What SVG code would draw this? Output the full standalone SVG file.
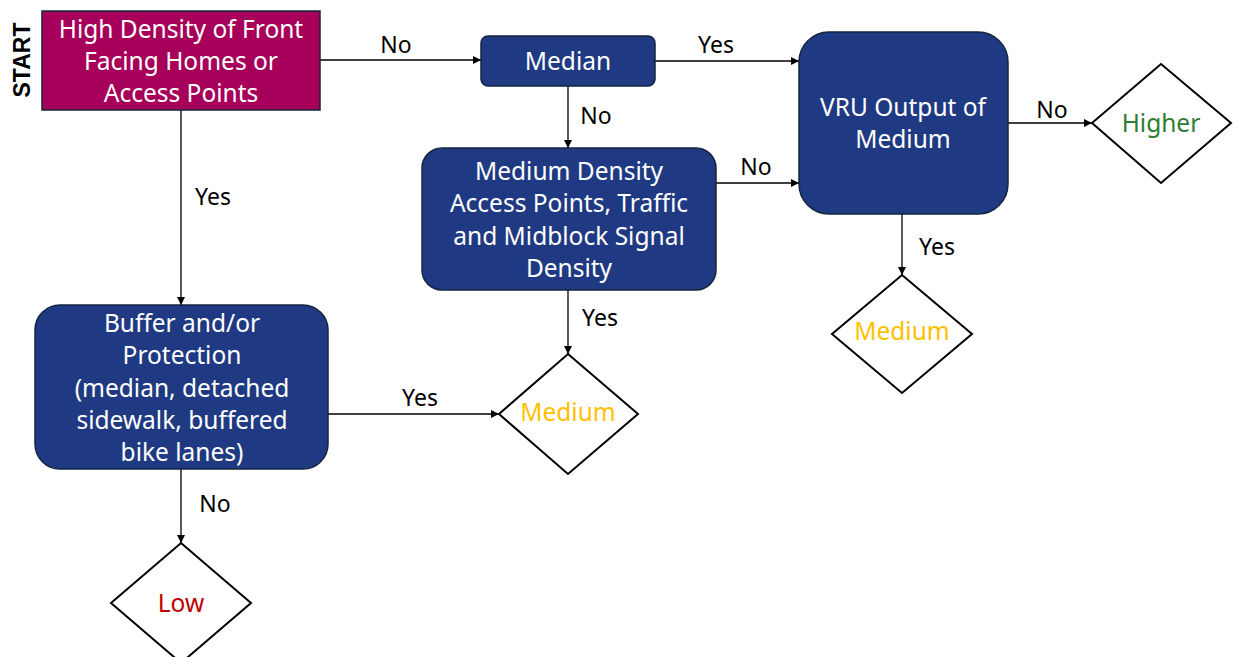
<svg xmlns="http://www.w3.org/2000/svg" width="1233" height="657" viewBox="0 0 1233 657">
<style>
.t{font-family:"Noto Sans","Liberation Sans",sans-serif;font-size:24.5px;text-anchor:middle;dominant-baseline:central}
.l{font-size:23px}
.w{fill:#ffffff}
.k{fill:#000000}
.box{fill:#1F3A82;stroke:#15253f;stroke-width:1.5}
.dia{fill:#ffffff;stroke:#000000;stroke-width:2}
.c{stroke:#000000;stroke-width:1.3;fill:none;marker-end:url(#ah)}
</style>
<defs>
<marker id="ah" viewBox="0 0 10 10" refX="10" refY="5" markerWidth="8" markerHeight="8" markerUnits="userSpaceOnUse" orient="auto">
<path d="M0,0 L10,5 L0,10 z" fill="#000"/>
</marker>
</defs>
<rect width="1233" height="657" fill="#ffffff"/>
<g id="connectors">
<path class="c" d="M320,60 H481"/>
<path class="c" d="M655,61 H799"/>
<path class="c" d="M568,86 V148"/>
<path class="c" d="M716,183 H799"/>
<path class="c" d="M1008,123 H1092"/>
<path class="c" d="M902,214 V275"/>
<path class="c" d="M568,290 V354"/>
<path class="c" d="M181,110 V305"/>
<path class="c" d="M328,414 H499"/>
<path class="c" d="M181,469 V543"/>
<text class="t l k" x="396" y="44">No</text>
<text class="t l k" x="716" y="44">Yes</text>
<text class="t l k" x="596" y="115">No</text>
<text class="t l k" x="756" y="166">No</text>
<text class="t l k" x="1052" y="109">No</text>
<text class="t l k" x="937" y="246">Yes</text>
<text class="t l k" x="600" y="317">Yes</text>
<text class="t l k" x="213" y="196">Yes</text>
<text class="t l k" x="420" y="397">Yes</text>
<text class="t l k" x="215" y="503">No</text>
</g>
<g id="start-label">
<text class="t k" transform="translate(22,60) rotate(-90)" style="font-family:'Liberation Sans',Arial,sans-serif;font-weight:bold;font-size:23px">START</text>
</g>
<g id="start">
<rect x="42" y="11" width="278" height="99" fill="#A6005A" stroke="#15253f" stroke-width="1.5"/>
<text class="t w" x="181" y="28">High Density of Front</text>
<text class="t w" x="181" y="60">Facing Homes or</text>
<text class="t w" x="181" y="92">Access Points</text>
</g>
<g id="median">
<rect class="box" x="481" y="36" width="174" height="50" rx="7"/>
<text class="t w" x="568" y="60">Median</text>
</g>
<g id="vru">
<rect class="box" x="799" y="32" width="209" height="182" rx="30"/>
<text class="t w" x="903" y="106">VRU Output of</text>
<text class="t w" x="903" y="138">Medium</text>
</g>
<g id="higher">
<polygon class="dia" points="1161,64 1231,123 1161,183 1092,123"/>
<text class="t" x="1161" y="122" fill="#2E7D32">Higher</text>
</g>
<g id="medium-density">
<rect class="box" x="422" y="148" width="294" height="142" rx="20"/>
<text class="t w" x="569" y="170">Medium Density</text>
<text class="t w" x="569" y="202">Access Points, Traffic</text>
<text class="t w" x="569" y="235">and Midblock Signal</text>
<text class="t w" x="569" y="267">Density</text>
</g>
<g id="buffer">
<rect class="box" x="35" y="305" width="293" height="164" rx="25"/>
<text class="t w" x="182" y="322">Buffer and/or</text>
<text class="t w" x="182" y="354">Protection</text>
<text class="t w" x="182" y="387">(median, detached</text>
<text class="t w" x="182" y="419">sidewalk, buffered</text>
<text class="t w" x="182" y="451">bike lanes)</text>
</g>
<g id="medium-1">
<polygon class="dia" points="568,354 638,414 568,474 499,414"/>
<text class="t" x="568" y="411" fill="#FFC000">Medium</text>
</g>
<g id="medium-2">
<polygon class="dia" points="902,275 972,334 902,393 832,334"/>
<text class="t" x="902" y="330" fill="#FFC000">Medium</text>
</g>
<g id="low">
<polygon class="dia" points="181,543 251,603 181,663 111,603"/>
<text class="t" x="181" y="602" fill="#C00000">Low</text>
</g>
</svg>
